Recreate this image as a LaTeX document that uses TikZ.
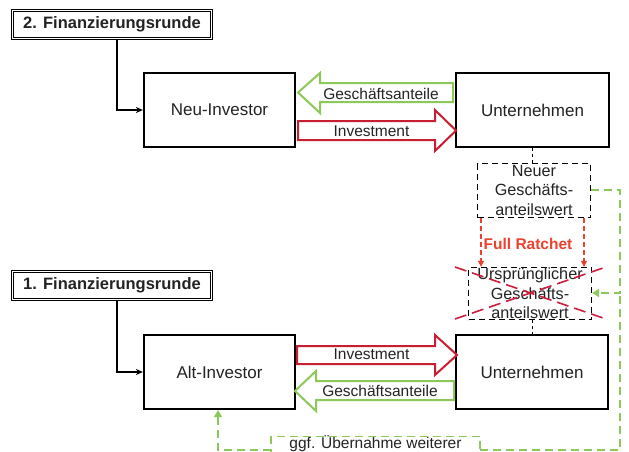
\documentclass[tikz,border=0pt]{standalone}
\usepackage{fontspec}
\setmainfont{Liberation Sans}
\usetikzlibrary{arrows.meta}
\definecolor{boxred}{RGB}{200,30,50}
\definecolor{ratchetred}{RGB}{235,65,45}
\definecolor{crossred}{RGB}{205,30,60}
\definecolor{lgreen}{RGB}{140,200,90}
\definecolor{txt}{RGB}{35,35,35}
\begin{document}
\begin{tikzpicture}[x=1pt,y=-1pt,
  font=\fontsize{15.5}{18.5}\selectfont, text=txt,
  mainbox/.style={draw=black, line width=2.2pt, minimum width=151pt, minimum height=74pt, inner sep=0pt, font=\fontsize{17}{20}\selectfont},
  roundbox/.style={draw=black, line width=0.6pt, double=white, double distance=1.8pt, minimum width=199pt, minimum height=28pt, inner sep=0pt, font=\fontsize{16.5}{19}\selectfont\bfseries},
  dbox/.style={draw=black, dashed, dash pattern=on 6pt off 4pt, line width=1.3pt, inner sep=0pt, align=center, font=\fontsize{16.2}{19.5}\selectfont},
  redarrow/.style={draw=boxred, line width=2pt, fill=white, line join=miter},
  greenarrow/.style={draw=lgreen, line width=2pt, fill=white, line join=miter},
  gdash/.style={draw=lgreen, line width=1.6pt, dash pattern=on 8pt off 5pt},
  rdash/.style={draw=ratchetred, line width=1.2pt, dash pattern=on 5pt off 3pt},
  xdash/.style={draw=crossred, line width=1.6pt, dash pattern=on 12pt off 6pt},
  conn/.style={draw=black, line width=1.4pt, -{Stealth[length=7pt,width=6pt]}}
]
\useasboundingbox (0,0) rectangle (629,452);
\clip (0,0) rectangle (629,452);
\fill[white] (0,0) rectangle (629,452);

% round boxes
\node[roundbox] (r2) at (112,24.5) {2. Finanzierungsrunde};
\node[roundbox] (r1) at (112,285.5) {1. Finanzierungsrunde};

% main boxes
\node[mainbox] (neu) at (219.5,110) {Neu-Investor};
\node[mainbox, minimum width=153pt] (unt1) at (532.5,110) {Unternehmen};
\node[mainbox] (alt) at (219.5,372) {Alt-Investor};
\node[mainbox, minimum width=152pt] (unt2) at (532,372) {Unternehmen};

% dashed value boxes
\node[dbox, minimum width=113pt, minimum height=54pt] (neuer) at (534,190.5) {Neuer\\Geschäfts-\\anteilswert};
\node[dbox, minimum width=123pt, minimum height=52pt] (urs) at (530,293.5) {Ursprünglicher\\Geschäfts-\\anteilswert};

% connectors from round boxes
\draw[conn] ([xshift=5pt]r2.south) |- (neu.west);
\draw[conn] ([xshift=5pt]r1.south) |- (alt.west);

% thin dashed links
\draw[black, line width=1pt, dashed] (unt1.south) -- (unt1.south |- neuer.north);
\draw[black, line width=1pt, dashed] (urs.south -| unt2.north) -- (unt2.north);

% top arrows
\draw[greenarrow] (298,92.5) -- (320,73) -- (320,83) -- (453,83) -- (453,102) -- (320,102) -- (320,113) -- cycle;
\node (ga1) at (381,94) {Geschäftsanteile};
\draw[redarrow] (298,121) -- (435,121) -- (435,110) -- (456,130.5) -- (435,151) -- (435,140) -- (298,140) -- cycle;
\node (inv1) at (371.5,131) {Investment};

% bottom arrows
\draw[redarrow] (297,346) -- (435,346) -- (435,335) -- (457,355) -- (435,375) -- (435,364) -- (297,364) -- cycle;
\node (inv2) at (371.5,354.5) {Investment};
\draw[greenarrow] (295,391) -- (316,371) -- (316,381) -- (454,381) -- (454,400) -- (316,400) -- (316,411) -- cycle;
\node (ga2) at (380,391) {Geschäftsanteile};

% full ratchet
\coordinate (fl) at (481,218);
\coordinate (fr) at (584,218);
\draw[rdash, -{Triangle[length=6pt,width=6pt]}] (fl) -- (fl |- urs.north);
\draw[rdash, -{Triangle[length=6pt,width=6pt]}] (fr) -- (fr |- urs.north);
\node[text=ratchetred, font=\fontsize{15.5}{18}\selectfont\bfseries] (fullr) at (528,243.5) {Full Ratchet};

% cross
\coordinate (c1) at (455,267);
\coordinate (c2) at (603,318);
\coordinate (c3) at (455,319);
\coordinate (c4) at (603,268);
\draw[xdash] (c1) -- (c2);
\draw[xdash] (c3) -- (c4);

% green dashed feedback
\coordinate (gr) at (620,190);
\coordinate (gm) at (620,293);
\coordinate (gb) at (620,450);
\draw[gdash, -{Triangle[length=7pt,width=8pt]}] (neuer.east |- gr) -- (gr) -- (gm) -- (urs.east |- gm);
\node (ggf) at (375.5,443.5) {ggf. Übernahme weiterer};
\draw[gdash] (271,470) -- (271,436.5) -- (480,436.5) -- (480,470);
\coordinate (gbl) at (271,450);
\coordinate (gbr) at (480,450);
\coordinate (ga) at (218,450);
\draw[gdash] (gbr) -- (gb) -- (gm);
\draw[gdash, -{Triangle[length=7pt,width=8pt]}] (gbl) -- (ga) -- (ga |- alt.south);
\end{tikzpicture}
\end{document}
